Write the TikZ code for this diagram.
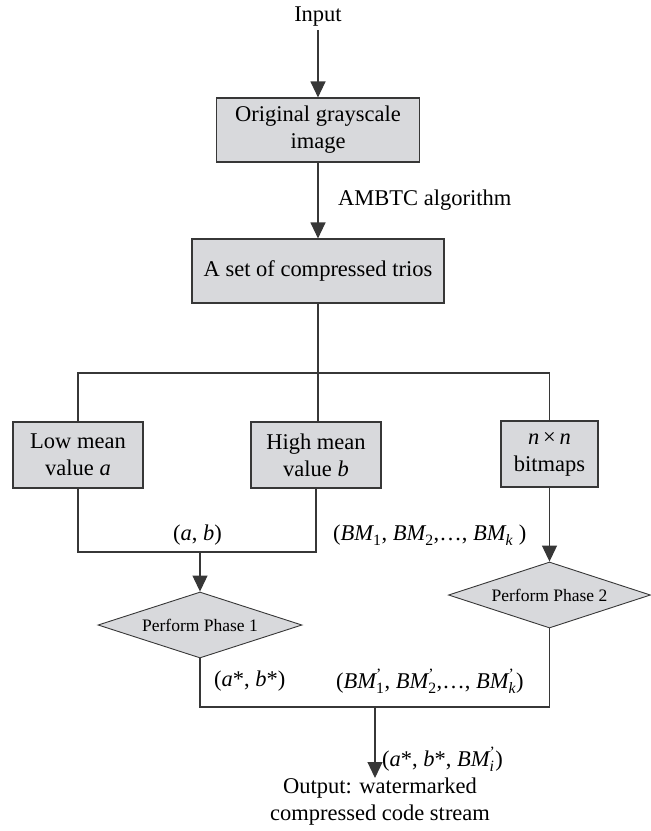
\documentclass[tikz,border=0pt]{standalone}
\usepackage{amsmath}
\usepackage{fontspec}
\setmainfont{Liberation Serif}
\usetikzlibrary{arrows.meta,shapes.geometric,positioning}
\definecolor{boxgray}{RGB}{216,217,220}
\definecolor{linegray}{RGB}{55,55,55}
\newcommand{\bmsub}[2]{$\textit{BM}_{\text{#1}}^{\text{#2}}$}

\begin{document}
\begin{tikzpicture}[x=1pt, y=-1pt,
	font=\fontsize{22.5}{27}\selectfont,
	box/.style={rectangle, draw=linegray, fill=boxgray, line width=1.1pt, align=center, inner sep=0pt},
	phase/.style={diamond, aspect=3, draw=linegray, fill=boxgray, line width=0.9pt, inner sep=0pt, minimum width=204pt, minimum height=66pt, font=\fontsize{17.5}{20}\selectfont},
	link/.style={draw=linegray, line width=1.1pt},
	arr/.style={link, -{Triangle[length=16pt, width=15pt]}},
	lbl/.style={inner sep=0pt, anchor=west}]
	\useasboundingbox (0,0) rectangle (651,831);

	\node (input) at (318,17) {Input};
	\node (orig) [box, minimum width=203pt, minimum height=64pt] at (318,130) {Original grayscale\\image};
	\node (trios) [box, minimum width=252pt, minimum height=64pt] at (318,271) {A set of compressed trios};
	\node (low) [box, minimum width=130pt, minimum height=66pt] at (78,455) {Low mean\\value \textit{a}};
	\node (high) [box, minimum width=130pt, minimum height=66pt] at (316,455) {High mean\\value \textit{b}};
	\node (bits) [box, minimum width=97pt, minimum height=66pt] at (549.5,454) {\textit{n}\,×\,\textit{n}\\bitmaps};
	\node (p1) [phase] at (200,625) {Perform Phase 1};
	\node (p2) [phase, minimum width=202pt] at (549.5,595) {Perform Phase 2};
	\node (output) [align=center, inner sep=0pt, anchor=north] at (380,778) {Output: watermarked\\compressed code stream};

	\coordinate (split) at (318,373);
	\coordinate (join) at (200,552);
	\coordinate (merge) at (375,707);

	\draw[arr] (input) -- (orig);
	\draw[arr] (orig) -- (trios);
	\draw[link] (trios) -- (split);
	\draw[link] (low.north) -- (low.north |- split) -- (bits.north |- split) -- (bits.north);
	\draw[link] (split) -- (split |- high.north);
	\draw[link] (low.south) -- (low.south |- join) -- (high.south |- join) -- (high.south);
	\draw[arr] (join) -- (p1.north);
	\draw[arr] (bits.south) -- (p2.north);
	\draw[link] (p1.south) -- (p1.south |- merge) -- (p2.south |- merge) -- (p2.south);
	\draw[arr] (merge) -- (merge |- output.north);

	% labels on the connectors
	\node (ambtc) [lbl] at (338,200) {AMBTC algorithm};
	\node (ab) [lbl] at (173,535) {(\textit{a}, \textit{b})};
	\node (bmlist) [lbl] at (333,535) {(\bmsub{1}{}, \bmsub{2}{},\ldots, \bmsub{\textit{k}}{} )};
	\node (abstar) [lbl] at (214,681) {(\textit{a}*, \textit{b}*)};
	\node (bmnew) [lbl] at (336,681) {(\bmsub{1}{'}, \bmsub{2}{'},\ldots, \bmsub{\textit{k}}{'})};
	\node (result) [lbl] at (382,759) {(\textit{a}*, \textit{b}*, \bmsub{\textit{i}}{'})};
\end{tikzpicture}
\end{document}
